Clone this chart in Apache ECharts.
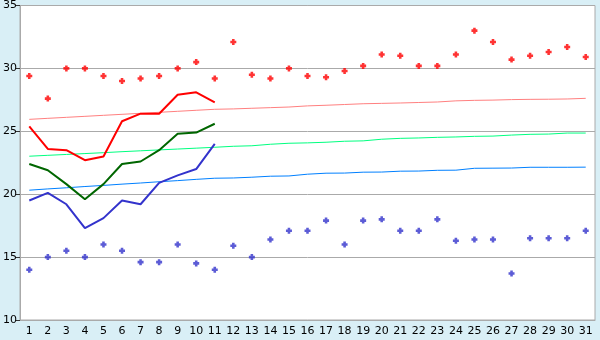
<!DOCTYPE html>
<html><head><meta charset="utf-8">
<script src="https://cdn.jsdelivr.net/npm/echarts@6/dist/echarts.min.js"></script>
<style>html,body{margin:0;padding:0;background:#d9eff6}#c{width:600px;height:340px}</style>
</head><body><div id="c"></div>
<script>
var days = ['1','2','3','4','5','6','7','8','9','10','11','12','13','14','15','16','17','18','19','20','21','22','23','24','25','26','27','28','29','30','31'];
var yTicks = [10, 15, 20, 25, 30, 35];
var recordHigh = [29.4,27.6,30.0,30.0,29.4,29.0,29.2,29.4,30.0,30.5,29.2,32.1,29.5,29.2,30.0,29.4,29.3,29.8,30.2,31.1,31.0,30.2,30.2,31.1,33.0,32.1,30.7,31.0,31.3,31.7,30.9];
var recordLow = [14.0,15.0,15.5,15.0,16.0,15.5,14.6,14.6,16.0,14.5,14.0,15.9,15.0,16.4,17.1,17.1,17.9,16.0,17.9,18.0,17.1,17.1,18.0,16.3,16.4,16.4,13.7,16.5,16.5,16.5,17.1];
var obsHigh = [25.4,23.6,23.5,22.7,23.0,25.8,26.4,26.4,27.9,28.1,27.3];
var obsMean = [22.4,21.9,20.8,19.6,20.8,22.4,22.6,23.5,24.8,24.9,25.6];
var obsLow = [19.5,20.1,19.2,17.3,18.1,19.5,19.2,20.9,21.5,22.0,24.0];
var normHigh = [25.95,26.03,26.11,26.19,26.27,26.35,26.43,26.51,26.59,26.67,26.75,26.78,26.83,26.88,26.93,27.02,27.07,27.13,27.19,27.22,27.25,27.29,27.33,27.42,27.46,27.48,27.52,27.54,27.55,27.57,27.62];
var normMean = [23.02,23.09,23.16,23.23,23.30,23.38,23.45,23.52,23.59,23.66,23.73,23.81,23.85,23.97,24.05,24.08,24.13,24.21,24.24,24.37,24.44,24.47,24.52,24.55,24.60,24.62,24.70,24.76,24.78,24.86,24.86];
var normLow = [20.32,20.42,20.51,20.61,20.70,20.80,20.89,20.99,21.08,21.18,21.27,21.29,21.35,21.43,21.45,21.59,21.67,21.68,21.75,21.76,21.83,21.84,21.90,21.91,22.06,22.07,22.08,22.14,22.14,22.14,22.15];

var plus = 'path://M2,0L5,0L5,2L7,2L7,5L5,5L5,7L2,7L2,5L0,5L0,2L2,2Z';
function trend(data, color) {
  return {type:'line', data:data, symbol:'none', silent:true, z:2,
    lineStyle:{color:color, width:1}};
}
function obs(data, color) {
  return {type:'line', data:data, symbol:'none', silent:true, z:3,
    lineStyle:{color:color, width:2}};
}
function dots(data, color) {
  return {type:'scatter', data:data, symbol:plus, symbolSize:6, silent:true, z:4,
    itemStyle:{color:color}};
}
var chart = echarts.init(document.getElementById('c'), null, {renderer:'canvas'});
chart.setOption({
  animation:false,
  backgroundColor:'#d9eff6',
  grid:{left:20, right:5, top:5, bottom:20, show:true, backgroundColor:'#ffffff', borderColor:'#aaaaaa', borderWidth:1},
  xAxis:{type:'category', data:days, boundaryGap:true,
    axisLine:{lineStyle:{color:'#aaaaaa'}},
    axisTick:{alignWithLabel:true, length:5, lineStyle:{color:'#333333'}},
    axisLabel:{color:'#000', fontFamily:'DejaVu Sans', fontSize:11, margin:6, interval:0}},
  yAxis:{type:'value', min:yTicks[0], max:yTicks[yTicks.length-1], interval:5,
    axisLine:{show:true, lineStyle:{color:'#aaaaaa'}},
    axisTick:{show:true, length:4, lineStyle:{color:'#333333'}},
    splitLine:{lineStyle:{color:'#aaaaaa'}},
    axisLabel:{color:'#000', fontFamily:'DejaVu Sans', fontSize:11, margin:3}},
  series:[
    trend(normHigh,'#ff8080'),
    trend(normMean,'#00ff80'),
    trend(normLow,'#0080ff'),
    obs(obsHigh,'#ff0000'),
    obs(obsMean,'#006600'),
    obs(obsLow,'#3333cc'),
    dots(recordHigh,'#ff0000'),
    dots(recordLow,'#3333cc')
  ]
});
</script></body></html>
